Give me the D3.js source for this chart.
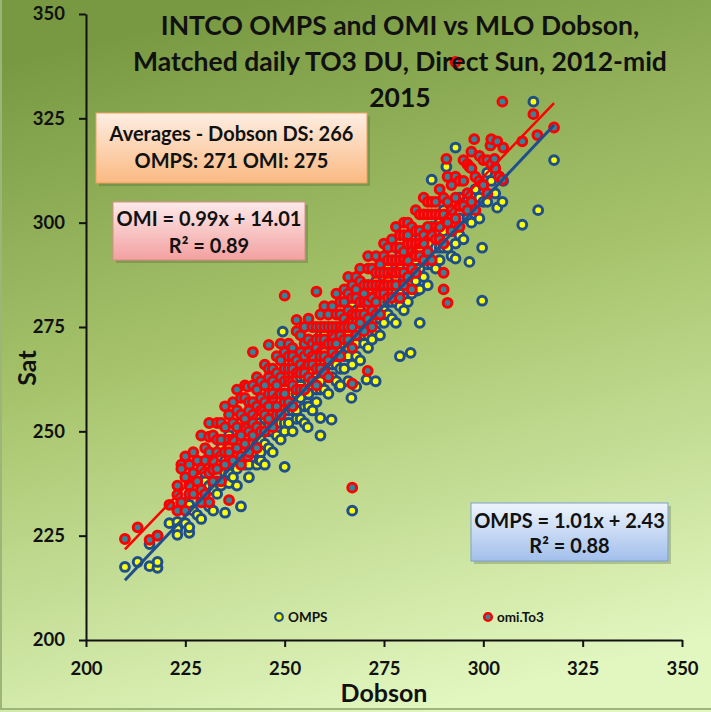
<!DOCTYPE html>
<html>
<head>
<meta charset="utf-8">
<script src="https://cdn.jsdelivr.net/npm/d3@7"></script>
<style>
  body { margin: 0; background: #b5cf82; }
  svg { display: block; }
  text { font-family: Lato, "Open Sans", sans-serif; font-weight: bold; fill: #111; }
</style>
</head>
<body>
<div id="chart"></div>
<script>
// rows: [dobson, sat, sat, ...]
var ompsRows = [
  [209.8, 217.5], [213, 218.7], [216, 217.7, 223], [218, 217.3, 218.7, 225],
  [221, 228], [223, 228.3, 226.6, 225.2], [224, 233], [225, 228, 233], [226, 225.7, 232.4, 227],
  [227, 236, 231], [228, 230, 235, 239], [229, 235, 229], [229.5, 238], [230, 238, 233, 242],
  [231, 232, 237], [232, 231, 237.6, 242, 236], [233, 238, 242, 235], [234, 237, 246, 241],
  [235, 230.5, 243, 240], [236, 237.6, 240, 246, 249], [237, 244, 239, 248],
  [238, 237, 244, 247, 241], [239, 232, 247, 243, 252], [240, 245, 250, 242, 247],
  [241, 242, 253, 247, 239], [242, 251, 245, 256, 247], [243, 247, 251, 242, 254],
  [243.7, 243.2], [244, 243, 251, 245, 257, 248], [245, 247, 255, 250, 242, 253],
  [246, 246, 257, 250, 253], [247, 250, 256, 245, 253, 261], [248, 256, 249, 253, 260, 252],
  [249, 248, 256, 259, 252], [249.5, 273.9], [250, 241.5, 256, 252, 263, 250, 259],
  [251, 255, 262, 252, 259, 256], [252, 261, 250, 259, 255, 266], [253, 255, 259, 264, 253],
  [254, 261, 258, 253, 267, 263], [255, 256, 263, 260, 267, 252], [255.8, 251, 256.8],
  [256, 266, 259, 262, 256, 271], [257, 261, 266, 255, 264], [258, 266, 260, 270, 263, 257],
  [259, 249, 253.2, 262, 270, 265, 260, 273], [260, 265, 260, 269, 264, 273],
  [261, 271, 263, 268, 259], [261.8, 252.8], [262, 266, 274, 263, 270, 267],
  [263, 270, 262, 274, 266], [263.8, 260.7], [264, 265, 273, 269, 278, 261],
  [265, 273, 268, 277, 265, 271], [266, 270, 276, 268, 273, 262], [266.8, 258],
  [267, 276, 266, 272, 280, 231], [268, 260.7, 271, 276, 268, 279, 274],
  [269, 279, 273, 267, 276], [270, 275, 271, 282, 278, 273], [270.6, 262.4],
  [271, 273, 282, 277, 270, 285], [272, 279, 275, 282, 272], [272.9, 262],
  [273, 277, 282, 274, 286, 278], [274, 282, 273, 285, 277], [275, 276, 281, 287, 279, 284],
  [276, 281, 286, 278, 290], [277, 284, 277, 288, 281], [278, 281, 287, 276, 284],
  [279, 289, 283, 292, 280, 268], [280, 282, 287, 291, 279, 285], [281, 287, 284, 293, 281],
  [281.7, 268.8], [282, 291, 286, 283, 296], [283, 286, 291, 294], [283.4, 283.7],
  [284, 289, 284, 294, 276], [285, 292, 287, 298], [286, 290, 295, 285],
  [287, 295, 290, 299, 310.3], [288, 289, 294, 298], [289, 294, 300, 291],
  [290, 298, 294, 303], [290.7, 313.4], [291, 294, 300], [292, 298, 292, 303],
  [293, 295, 301, 318, 291.4], [294, 301, 297, 306], [295, 296, 304], [296, 301, 307],
  [296.5, 290.6], [297, 300, 305], [298, 308, 302], [299, 301, 306], [299.7, 294, 281.3],
  [300, 305, 309], [301, 305, 312], [302, 310], [302.8, 313.4], [303, 307, 313],
  [303.5, 303.6], [304, 311], [304.8, 305], [305, 310], [309.8, 299.5], [312.6, 329],
  [313.8, 303], [317.8, 315]
];

var omiRows = [
  [209.8, 224.2], [213, 227], [216, 224], [218, 225], [221, 232.4], [223, 231, 234.8, 237],
  [224, 242, 233, 241], [225, 239, 231, 244], [226, 237, 235, 242], [227, 245, 235, 240],
  [228, 238, 243], [229, 233, 241, 249, 236], [230, 235, 246, 243], [231, 233, 248.7, 245, 240, 252],
  [232, 240.8, 243, 249, 238], [233, 248, 241, 252, 245], [234, 238, 248, 252],
  [235, 251, 245, 256, 242], [236, 233.5, 244, 248, 254, 245], [237, 243, 252, 257, 248],
  [238, 255, 246, 251, 260], [239, 242, 249, 258, 244, 254], [240, 253, 247, 258, 251, 261],
  [240.7, 244, 260.7], [241, 250, 257, 245, 255], [242, 269, 261, 254, 249, 257, 252],
  [243, 251, 260, 256, 246, 263], [244, 258, 250, 262, 255], [245, 254, 266, 257, 261, 250],
  [246, 270.7, 263, 256, 259, 253, 265], [247, 251, 262, 258, 265, 259],
  [248, 264, 256, 268, 261, 254], [249, 259, 267, 254, 263, 271],
  [250, 262, 257, 265, 269, 259, 282.5], [251, 268, 262, 257, 265, 271],
  [252, 261, 265, 270, 256, 268], [253, 267, 260, 274, 264, 276.7],
  [254, 260, 269, 266, 273, 264], [255, 271, 264, 275, 268, 260],
  [256, 266, 272, 263, 277, 269], [257, 271, 262, 275, 268, 266],
  [258, 265, 270, 275, 261, 283.5, 272], [259, 272, 268, 278, 265, 275],
  [260, 264, 271, 275, 268, 280, 272], [261, 278, 271, 267, 275, 263],
  [262, 273, 280, 269, 275, 271], [263, 268, 278, 275, 283, 271],
  [264, 278, 273, 281, 268, 275], [265, 272, 284, 277, 275, 281],
  [266, 279, 272, 283, 275, 287], [267, 275, 282, 278, 270, 285, 236.5, 261.4],
  [268, 284, 278, 282, 273, 287], [269, 278, 286, 281, 276, 289],
  [270, 281, 274, 285, 283, 278], [270.9, 264.5], [271, 289, 281, 285, 277, 292],
  [272, 279, 285, 289, 282, 275], [273, 285, 292, 281, 288, 278],
  [274, 283, 290, 285, 278, 288], [275, 292, 283, 288, 295, 285],
  [276, 282, 288, 291, 285, 294], [277, 291, 282, 288, 296, 285],
  [278, 288, 294, 285, 291, 299], [279, 294, 288, 297, 282, 291],
  [280, 288, 293, 297, 285, 291, 300], [281, 297, 291, 287, 295, 300],
  [282, 293, 289, 299, 295, 284], [283, 292, 298, 303, 288, 295],
  [284, 298, 292, 302, 295], [285, 291, 297, 302, 295, 306], [286, 299, 293, 302, 305],
  [287, 297, 302, 291, 305], [288, 305, 299, 296, 302], [289, 296, 302, 308, 299],
  [290, 302, 295, 306, 288, 284], [290.7, 315.3], [291, 305, 300, 311, 280.8],
  [292, 298, 303, 309], [293, 306, 301, 311, 338.5], [294, 304, 310, 299],
  [295, 310, 304, 315], [296, 307, 314, 303], [296.5, 313.4], [297, 305, 313, 317],
  [297.7, 320], [298, 311, 303], [299, 316, 310], [300, 309, 315], [301, 315, 307],
  [301.8, 318.5], [302, 314, 320], [302.8, 315.3], [303, 313], [303.5, 319.5], [304, 311],
  [304.8, 329, 310.3], [305, 318], [309.8, 319.5], [312.6, 326], [313.6, 321], [317.8, 322.8]
];

var ompsFit = { slope: 1.01, intercept: 2.43 };
var omiFit = { slope: 0.99, intercept: 14.01 };

var tickValues = [200, 225, 250, 275, 300, 325, 350];
var titleLines = ["INTCO OMPS and OMI vs MLO Dobson,", "Matched daily TO3 DU, Direct Sun, 2012-mid", "2015"];
var averagesText = ["Averages - Dobson DS: 266", "OMPS: 271 OMI: 275"];
var omiText = ["OMI = 0.99x + 14.01", "R\u00b2 = 0.89"];
var ompsText = ["OMPS = 1.01x + 2.43", "R\u00b2 = 0.88"];
var legendItems = ["OMPS", "omi.To3"];

(function() {
  var width = 711, height = 712;

  var svg = d3.select("#chart")
    .append("svg")
    .attr("width", width)
    .attr("height", height);

  var defs = svg.append("defs");

  function gradient(id, stops, x1, y1, x2, y2) {
    var g = defs.append("linearGradient")
      .attr("id", id)
      .attr("x1", x1).attr("y1", y1).attr("x2", x2).attr("y2", y2);
    stops.forEach(function(s) {
      g.append("stop").attr("offset", s[0]).attr("stop-color", s[1]);
    });
  }

  gradient("bg", [["0%", "#789942"], ["45%", "#a7c46c"], ["100%", "#e2f7c0"]], 0.35, 0, 0.6, 1);
  gradient("peach", [["0%", "#fdeee2"], ["100%", "#fbb982"]], 0, 0, 0, 1);
  gradient("pink", [["0%", "#fdeaea"], ["100%", "#f3a0a0"]], 0, 0, 0, 1);
  gradient("blue", [["0%", "#eef4fc"], ["100%", "#a2bfeb"]], 0, 0, 0, 1);

  svg.append("rect")
    .attr("width", width)
    .attr("height", height)
    .attr("fill", "url(#bg)");

  // thin frame left / bottom
  svg.append("path")
    .attr("d", "M1,0V709H711")
    .attr("fill", "none")
    .attr("stroke", "#9cb67a")
    .attr("stroke-width", 2);

  var x = d3.scaleLinear().domain([200, 350]).range([86, 682]);
  var y = d3.scaleLinear().domain([200, 350]).range([640, 14]);

  function flatten(rows) {
    var pts = [];
    rows.forEach(function(r) {
      r.slice(1).forEach(function(s) { pts.push({ dob: r[0], sat: s }); });
    });
    return pts;
  }

  var ompsPts = flatten(ompsRows);
  var omiPts = flatten(omiRows);

  // axes
  var yAxis = svg.append("g")
    .attr("transform", "translate(86,0)")
    .call(d3.axisLeft(y).tickValues(tickValues).tickSize(7).tickSizeOuter(0).tickPadding(14));

  var xAxis = svg.append("g")
    .attr("transform", "translate(0,640)")
    .call(d3.axisBottom(x).tickValues(tickValues).tickSize(7).tickSizeOuter(0).tickPadding(15));

  [xAxis, yAxis].forEach(function(a) {
    a.select(".domain").attr("stroke", "#111").attr("stroke-width", 2);
    a.selectAll(".tick line").attr("stroke", "#111").attr("stroke-width", 2);
    a.selectAll(".tick text")
      .attr("font-family", "Lato, sans-serif")
      .attr("font-weight", "bold")
      .attr("font-size", "18.5px")
      .attr("fill", "#111");
  });

  // points
  svg.append("g").selectAll("circle")
    .data(ompsPts)
    .enter().append("circle")
    .attr("cx", function(d) { return x(d.dob); })
    .attr("cy", function(d) { return y(d.sat); })
    .attr("r", 4.4)
    .attr("fill", "#ffff00")
    .attr("stroke", "#1f4e8c")
    .attr("stroke-width", 3);

  svg.append("g").selectAll("circle")
    .data(omiPts)
    .enter().append("circle")
    .attr("cx", function(d) { return x(d.dob); })
    .attr("cy", function(d) { return y(d.sat); })
    .attr("r", 4.4)
    .attr("fill", "#31859c")
    .attr("stroke", "#ff0000")
    .attr("stroke-width", 3);

  // trend lines
  function fitLine(pts, fit, color, w) {
    var ext = d3.extent(pts, function(d) { return d.dob; });
    svg.append("line")
      .attr("x1", x(ext[0])).attr("y1", y(fit.slope * ext[0] + fit.intercept))
      .attr("x2", x(ext[1])).attr("y2", y(fit.slope * ext[1] + fit.intercept))
      .attr("stroke", color)
      .attr("stroke-width", w);
  }
  fitLine(omiPts, omiFit, "#ff0000", 2.5);
  fitLine(ompsPts, ompsFit, "#1f4e8c", 3);

  // title
  var title = svg.append("text")
    .attr("text-anchor", "middle")
    .attr("font-size", "26.5px");
  titleLines.forEach(function(t, i) {
    title.append("tspan")
      .attr("x", 400)
      .attr("y", 35 + i * 36)
      .text(t);
  });

  // boxes
  function box(x0, y0, w, h, fill, stroke, lines, cy0, gap) {
    svg.append("rect")
      .attr("x", x0 + 3).attr("y", y0 + 3)
      .attr("width", w).attr("height", h)
      .attr("fill", "rgba(60,70,40,0.25)");
    svg.append("rect")
      .attr("x", x0).attr("y", y0)
      .attr("width", w).attr("height", h)
      .attr("fill", fill)
      .attr("stroke", stroke)
      .attr("stroke-width", 1);
    lines.forEach(function(t, i) {
      svg.append("text")
        .attr("x", x0 + w / 2)
        .attr("y", cy0 + i * gap)
        .attr("text-anchor", "middle")
        .attr("dominant-baseline", "central")
        .attr("font-size", "20px")
        .text(t);
    });
  }
  box(96, 113, 271, 70, "url(#peach)", "#f0a060", averagesText, 133, 27);
  box(113, 202, 192, 58, "url(#pink)", "#d98c8a", omiText, 218, 27);
  box(471, 503, 197, 58, "url(#blue)", "#7c9fd2", ompsText, 520, 25);

  // axis titles
  svg.append("text")
    .attr("x", 384)
    .attr("y", 692)
    .attr("text-anchor", "middle")
    .attr("dominant-baseline", "central")
    .attr("font-size", "25px")
    .text("Dobson");

  svg.append("text")
    .attr("transform", "translate(26,368) rotate(-90)")
    .attr("text-anchor", "middle")
    .attr("dominant-baseline", "central")
    .attr("font-size", "25px")
    .text("Sat");

  // legend
  var legend = svg.append("g");
  var legendX = [279, 488];
  legend.append("circle")
    .attr("cx", legendX[0]).attr("cy", 617).attr("r", 3.8)
    .attr("fill", "#ffff00").attr("stroke", "#1f4e8c").attr("stroke-width", 2.2);
  legend.append("circle")
    .attr("cx", legendX[1]).attr("cy", 617).attr("r", 3.8)
    .attr("fill", "#31859c").attr("stroke", "#ff0000").attr("stroke-width", 2.6);
  legendItems.forEach(function(t, i) {
    legend.append("text")
      .attr("x", legendX[i] + 9)
      .attr("y", 617)
      .attr("dominant-baseline", "central")
      .attr("font-size", "13.5px")
      .text(t);
  });
})();
</script>
</body>
</html>
